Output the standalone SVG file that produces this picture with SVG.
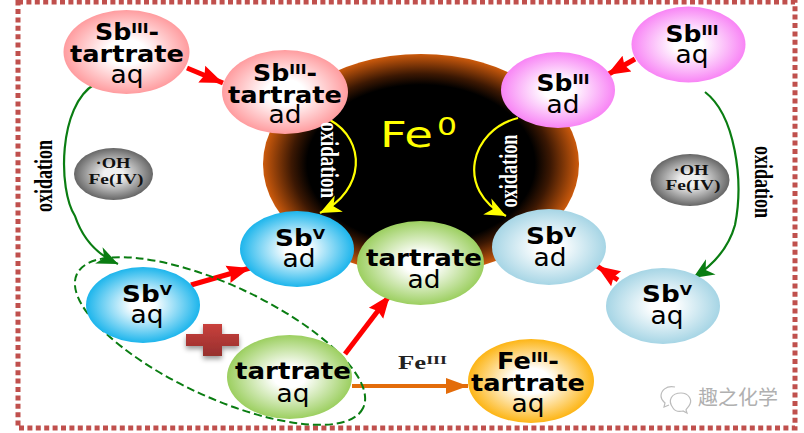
<svg xmlns="http://www.w3.org/2000/svg" width="804" height="433" viewBox="0 0 804 433">
<style>
.b{font-family:"DejaVu Sans",sans-serif;font-weight:700;font-size:23px;fill:#000;text-anchor:middle}
.r{font-family:"DejaVu Sans",sans-serif;font-weight:400;font-size:25px;fill:#000;text-anchor:middle}
.s{font-size:14px}
.ser{font-family:"Liberation Serif",serif;font-weight:700;font-size:26px;text-anchor:middle}
.g{font-family:"Liberation Serif",serif;font-weight:700;font-size:15px;fill:#111;text-anchor:middle}
.red{fill:none;stroke:#f00;stroke-width:5;marker-end:url(#mr)}
.grn{fill:none;stroke:#0a7d12;stroke-width:2.2;marker-end:url(#mg)}
.yel{fill:none;stroke:#ff0;stroke-width:2.2;marker-end:url(#my)}
</style>
<defs>
<radialGradient id="core"><stop offset="0.72" stop-color="#000"/><stop offset="0.82" stop-color="#3c1803"/><stop offset="1" stop-color="#cc5a0c"/></radialGradient>
<radialGradient id="pink"><stop offset="0.3" stop-color="#fff"/><stop offset="1" stop-color="#ff9c9f"/></radialGradient>
<radialGradient id="mag"><stop offset="0.25" stop-color="#fff"/><stop offset="1" stop-color="#f884f5"/></radialGradient>
<radialGradient id="blue"><stop offset="0.2" stop-color="#fff"/><stop offset="1" stop-color="#1cb5ec"/></radialGradient>
<radialGradient id="lblue"><stop offset="0.2" stop-color="#fff"/><stop offset="1" stop-color="#a6d5e5"/></radialGradient>
<radialGradient id="grn"><stop offset="0.25" stop-color="#fff"/><stop offset="1" stop-color="#9ccf60"/></radialGradient>
<radialGradient id="gold"><stop offset="0.3" stop-color="#fff"/><stop offset="1" stop-color="#fdb515"/></radialGradient>
<radialGradient id="gray"><stop offset="0.25" stop-color="#f0f0f0"/><stop offset="1" stop-color="#666"/></radialGradient>
<linearGradient id="plus" x1="0" y1="0" x2="0" y2="1"><stop offset="0" stop-color="#c9403c"/><stop offset="1" stop-color="#96302e"/></linearGradient>
<filter id="sh" x="-30%" y="-30%" width="160%" height="170%"><feDropShadow dx="0" dy="3" stdDeviation="2.5" flood-color="#000" flood-opacity="0.4"/></filter>
<marker id="mr" markerUnits="userSpaceOnUse" markerWidth="26" markerHeight="22" viewBox="0 0 26 22" refX="23" refY="11" orient="auto"><path d="M0,2 L23,11 L0,20 L3,11Z" fill="#f00"/></marker>
<marker id="mg" markerUnits="userSpaceOnUse" markerWidth="26" markerHeight="22" viewBox="0 0 26 22" refX="23" refY="11" orient="auto"><path d="M2,2 L23,11 L2,20 L8,11Z" fill="#0a7d12"/></marker>
<marker id="my" markerUnits="userSpaceOnUse" markerWidth="26" markerHeight="22" viewBox="0 0 26 22" refX="23" refY="11" orient="auto"><path d="M2,2 L23,11 L2,20 L8,11Z" fill="#ff0"/></marker>
<marker id="mo" markerUnits="userSpaceOnUse" markerWidth="26" markerHeight="22" viewBox="0 0 26 22" refX="23" refY="11" orient="auto"><path d="M1,3 L23,11 L1,19Z" fill="#e36c0a"/></marker>
</defs>
<rect id="frame" x="18" y="2" width="777" height="426" fill="none" stroke="#c0504d" stroke-width="5" stroke-dasharray="5 3.4"/>
<g id="core-particle"><ellipse cx="421" cy="164" rx="158" ry="110" fill="url(#core)"/><text x="380" y="147" font-family="'DejaVu Sans',sans-serif" font-size="36" fill="#ff0" textLength="53" lengthAdjust="spacingAndGlyphs">Fe</text><text x="437" y="135" font-family="'DejaVu Sans',sans-serif" font-size="25" fill="#ff0" textLength="20" lengthAdjust="spacingAndGlyphs">0</text></g>
<g id="connectors">
<path class="yel" d="M330,120 C366,140 366,190 320,213"/>
<path class="yel" d="M518,118 C470,130 455,190 506,216"/>
<path class="red" d="M187,68 L223,83"/>
<path class="red" d="M635,59 L607,75"/>
<path class="red" d="M191,285 L250,268"/>
<path class="red" d="M345,354 L390,295"/>
<path class="red" d="M618,280 L597,266"/>
<path d="M352,386 L468,386" fill="none" stroke="#e36c0a" stroke-width="4" marker-end="url(#mo)"/>
<path class="grn" d="M95,84 C58,105 58,190 75,216 C83,240 98,255 118,264"/>
<path class="grn" d="M705,92 C735,115 744,180 735,225 C728,250 712,266 693,278"/>
<ellipse cx="220" cy="341" rx="158" ry="56" transform="rotate(25 220 341)" fill="none" stroke="#0a7d12" stroke-width="2" stroke-dasharray="8 4"/>
</g>
<g id="n-sb3t-aq"><ellipse cx="126.500" cy="52" rx="63" ry="42" fill="url(#pink)"/><text class="b" x="127" y="40" textLength="64" lengthAdjust="spacingAndGlyphs">Sb<tspan class="s" dy="-7">III</tspan><tspan dy="7">-</tspan></text><text class="b" x="127" y="62" textLength="114" lengthAdjust="spacingAndGlyphs">tartrate</text><text class="r" x="127" y="83" textLength="33" lengthAdjust="spacingAndGlyphs">aq</text></g>
<g id="n-sb3t-ad"><ellipse cx="285" cy="92" rx="63" ry="42" fill="url(#pink)"/><text class="b" x="285" y="81" textLength="64" lengthAdjust="spacingAndGlyphs">Sb<tspan class="s" dy="-7">III</tspan><tspan dy="7">-</tspan></text><text class="b" x="285" y="103" textLength="114" lengthAdjust="spacingAndGlyphs">tartrate</text><text class="r" x="285" y="123" textLength="33" lengthAdjust="spacingAndGlyphs">ad</text></g>
<g id="n-sb3-aq"><ellipse cx="688.500" cy="44.500" rx="57" ry="38" fill="url(#mag)"/><text class="b" x="692" y="42" textLength="53" lengthAdjust="spacingAndGlyphs">Sb<tspan class="s" dy="-7">III</tspan></text><text class="r" x="692" y="63" textLength="33" lengthAdjust="spacingAndGlyphs">aq</text></g>
<g id="n-sb3-ad"><ellipse cx="558" cy="90" rx="57" ry="38" fill="url(#mag)"/><text class="b" x="563" y="91" textLength="53" lengthAdjust="spacingAndGlyphs">Sb<tspan class="s" dy="-7">III</tspan></text><text class="r" x="563" y="113" textLength="33" lengthAdjust="spacingAndGlyphs">ad</text></g>
<g id="n-sb5-ad-l"><ellipse cx="297" cy="249" rx="57" ry="38" fill="url(#blue)"/><text class="b" x="300" y="246" textLength="50" lengthAdjust="spacingAndGlyphs">Sb<tspan class="s" dy="-7">V</tspan></text><text class="r" x="299" y="267" textLength="33" lengthAdjust="spacingAndGlyphs">ad</text></g>
<g id="n-sb5-aq-l"><ellipse cx="143" cy="305" rx="57" ry="38" fill="url(#blue)"/><text class="b" x="147" y="302" textLength="50" lengthAdjust="spacingAndGlyphs">Sb<tspan class="s" dy="-7">V</tspan></text><text class="r" x="147" y="323" textLength="33" lengthAdjust="spacingAndGlyphs">aq</text></g>
<g id="n-tart-ad"><ellipse cx="420.500" cy="263" rx="63.500" ry="42" fill="url(#grn)"/><text class="b" x="424" y="266" textLength="116" lengthAdjust="spacingAndGlyphs">tartrate</text><text class="r" x="424" y="288" textLength="33" lengthAdjust="spacingAndGlyphs">ad</text></g>
<g id="n-tart-aq"><ellipse cx="289.500" cy="377" rx="62.500" ry="42" fill="url(#grn)"/><text class="b" x="293" y="379" textLength="116" lengthAdjust="spacingAndGlyphs">tartrate</text><text class="r" x="293" y="402" textLength="33" lengthAdjust="spacingAndGlyphs">aq</text></g>
<g id="n-sb5-ad-r"><ellipse cx="549" cy="247" rx="57" ry="38" fill="url(#lblue)"/><text class="b" x="551" y="244" textLength="50" lengthAdjust="spacingAndGlyphs">Sb<tspan class="s" dy="-7">V</tspan></text><text class="r" x="550" y="266" textLength="33" lengthAdjust="spacingAndGlyphs">ad</text></g>
<g id="n-sb5-aq-r"><ellipse cx="663" cy="306" rx="57" ry="38" fill="url(#lblue)"/><text class="b" x="667" y="302" textLength="50" lengthAdjust="spacingAndGlyphs">Sb<tspan class="s" dy="-7">V</tspan></text><text class="r" x="667" y="324" textLength="33" lengthAdjust="spacingAndGlyphs">aq</text></g>
<g id="n-fe3t"><ellipse cx="531" cy="381" rx="63" ry="42" fill="url(#gold)"/><text class="b" x="528" y="369" textLength="62" lengthAdjust="spacingAndGlyphs">Fe<tspan class="s" dy="-7">III</tspan><tspan dy="7">-</tspan></text><text class="b" x="528" y="391" textLength="114" lengthAdjust="spacingAndGlyphs">tartrate</text><text class="r" x="528" y="412" textLength="33" lengthAdjust="spacingAndGlyphs">aq</text></g>
<g id="n-oh-l"><ellipse cx="113.500" cy="174" rx="39.500" ry="26" fill="url(#gray)"/><text class="g" x="113" y="168" textLength="35" lengthAdjust="spacingAndGlyphs">·OH</text><text class="g" x="116" y="184" textLength="55" lengthAdjust="spacingAndGlyphs">Fe(IV)</text></g>
<g id="n-oh-r"><ellipse cx="690" cy="180" rx="39.500" ry="26" fill="url(#gray)"/><text class="g" x="691" y="175" textLength="35" lengthAdjust="spacingAndGlyphs">·OH</text><text class="g" x="693" y="190" textLength="55" lengthAdjust="spacingAndGlyphs">Fe(IV)</text></g>
<g id="plus-sign" filter="url(#sh)"><path d="M203,324 H222 V334 H239 V346 H222 V356 H203 V346 H186 V334 H203Z" fill="url(#plus)"/></g>
<text class="ser" transform="translate(52 176) rotate(-90)" textLength="72" lengthAdjust="spacingAndGlyphs">oxidation</text>
<text class="ser" transform="translate(755 182) rotate(90)" textLength="72" lengthAdjust="spacingAndGlyphs">oxidation</text>
<text class="ser" fill="#fff" transform="translate(321 160) rotate(90)" textLength="76" lengthAdjust="spacingAndGlyphs">oxidation</text>
<text class="ser" fill="#fff" transform="translate(517 171) rotate(-90)" textLength="73" lengthAdjust="spacingAndGlyphs">oxidation</text>
<text x="398" y="369" font-family="'Liberation Serif',serif" font-weight="700" font-size="18" fill="#222" textLength="49" lengthAdjust="spacingAndGlyphs">Fe<tspan font-size="12" dy="-5">III</tspan></text>
<g id="watermark" fill="none" stroke="#bcbcbc" stroke-width="1.200"><path d="M675,387 C666,385 661,391 661,396 C661,400 664,402 665,403 L664,407 L669,405"/><path d="M673,408 C667,400 672,393 681,393 C689,393 692,400 690,404 C689,407 686,409 686,410 L687,413 L683,411 C679,412 675,411 673,408Z"/><text x="698" y="405" font-family="'Noto Sans CJK SC',sans-serif" font-size="20" fill="#b0b0b0" stroke="none">趣之化学</text></g>
</svg>
